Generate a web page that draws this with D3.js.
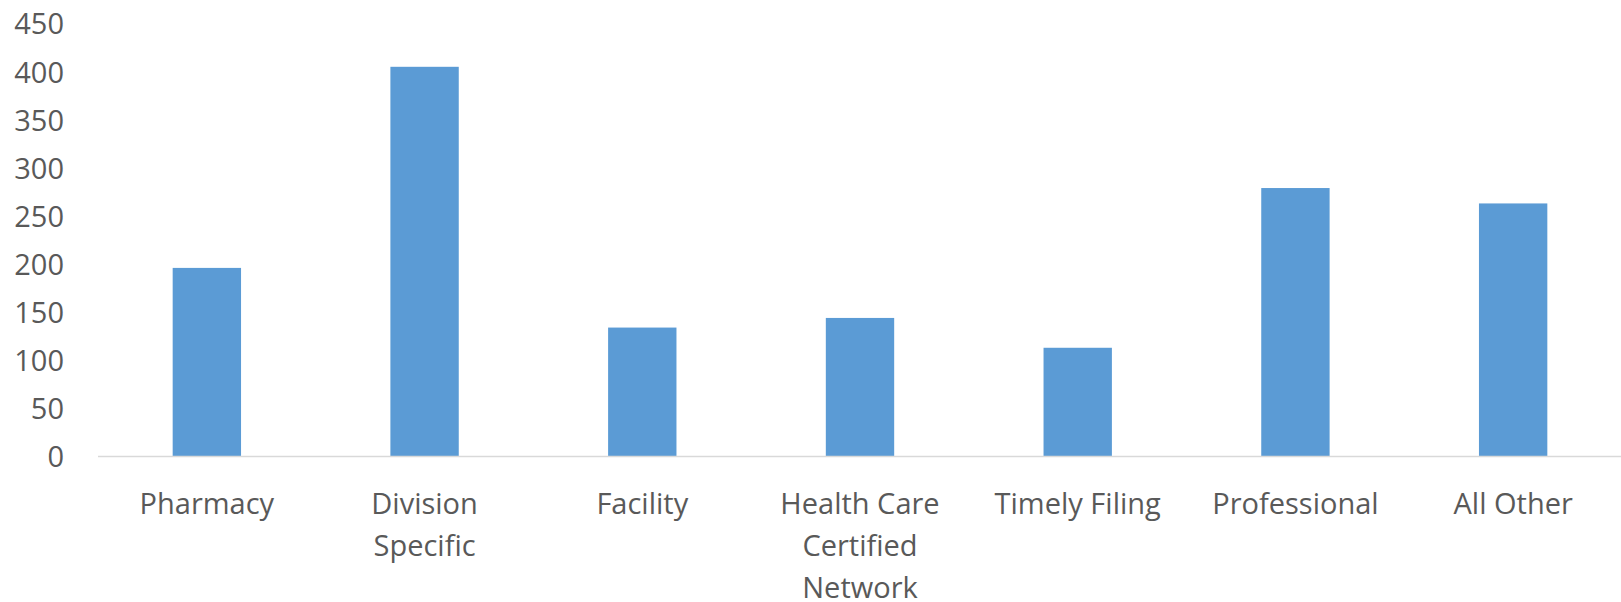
<!DOCTYPE html>
<html>
<head>
<meta charset="utf-8">
<script src="https://cdn.jsdelivr.net/npm/d3@7"></script>
<style>
    html, body { margin: 0; padding: 0; background: #fff; }
    #chart { width: 1621px; height: 602px; }
    .tick-label { font-family: "Open Sans", "Noto Sans", sans-serif; font-size: 29px; fill: #595959; }
</style>
</head>
<body>
<div id="chart"></div>
<script>
// DATA
const categories = ['Pharmacy', 'Division Specific', 'Facility', 'Health Care Certified Network', 'Timely Filing', 'Professional', 'All Other'];
const categoryLines = [['Pharmacy'], ['Division', 'Specific'], ['Facility'], ['Health Care', 'Certified', 'Network'], ['Timely Filing'], ['Professional'], ['All Other']];
const values = [196, 405, 134, 144, 113, 279, 263];
const yTicks = [0, 50, 100, 150, 200, 250, 300, 350, 400, 450];

const width = 1621;
const height = 602;
const MARGIN = { top: 23.5, right: -1, bottom: 145.5, left: 98 };
const gWIDTH = width - MARGIN.left - MARGIN.right;
const gHEIGHT = height - MARGIN.top - MARGIN.bottom;

const svg = d3.select('#chart').append('svg')
    .attr('width', width)
    .attr('height', height);

const g = svg.append('g')
    .attr('transform', `translate(${MARGIN.left},${MARGIN.top})`);

// SCALES
const x = d3.scaleBand()
    .domain(categories)
    .range([0, gWIDTH])
    .paddingInner(0.686)
    .paddingOuter(0.343);

const y = d3.scaleLinear()
    .domain([0, 450])
    .range([gHEIGHT, 0]);

// Y AXIS (labels only)
const yAxis = g.append('g')
    .call(d3.axisLeft(y).tickValues(yTicks).tickSize(0).tickPadding(34));
yAxis.select('.domain').remove();
yAxis.selectAll('text')
    .attr('class', 'tick-label')
    .attr('font-family', null)
    .attr('font-size', null)
    .attr('fill', null)
    .attr('dy', '0.36em');

// BARS
g.selectAll('.bar')
    .data(values)
    .enter()
    .append('rect')
    .attr('class', 'bar')
    .attr('x', (d, i) => x(categories[i]))
    .attr('width', x.bandwidth())
    .attr('y', d => y(d))
    .attr('height', d => y(0) - y(d))
    .attr('fill', '#5b9bd5');

// X AXIS LINE
g.append('line')
    .attr('x1', 0)
    .attr('x2', gWIDTH)
    .attr('y1', y(0))
    .attr('y2', y(0))
    .attr('stroke', '#d9d9d9')
    .attr('stroke-width', 1.5);

// X LABELS
const xLabels = g.selectAll('.x-label')
    .data(categories)
    .enter()
    .append('text')
    .attr('class', 'tick-label x-label')
    .attr('text-anchor', 'middle')
    .attr('x', d => x(d) + x.bandwidth() / 2)
    .attr('y', y(0) + 57);

xLabels.selectAll('tspan')
    .data((d, i) => categoryLines[i])
    .enter()
    .append('tspan')
    .attr('x', function () { return this.parentNode.getAttribute('x'); })
    .attr('dy', (d, i) => i === 0 ? 0 : 42)
    .text(d => d);
</script>
</body>
</html>
